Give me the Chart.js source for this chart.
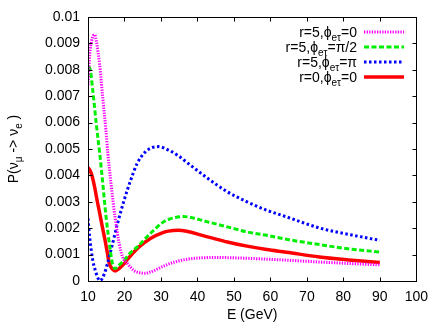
<!DOCTYPE html>
<html>
<head>
<meta charset="utf-8">
<script src="https://cdn.jsdelivr.net/npm/chart.js@4/dist/chart.umd.min.js"></script>
<style>
html,body{margin:0;padding:0;background:#fff;}
#wrap{width:436px;height:327px;position:relative;}
</style>
</head>
<body>
<div id="wrap"><canvas id="c" width="436" height="327"></canvas></div>
<script>
// ---- data ----
const xTicks = [10, 20, 30, 40, 50, 60, 70, 80, 90, 100];
const yTicks = [0, 0.001, 0.002, 0.003, 0.004, 0.005, 0.006, 0.007, 0.008, 0.009, 0.01];
const yTickLabels = ['0', '0.001', '0.002', '0.003', '0.004', '0.005', '0.006', '0.007', '0.008', '0.009', '0.01'];

const eMag = [10, 10.5, 11, 11.8, 12.4, 13.2, 14.05, 14.95, 15.4, 16.3, 17.4, 18.55, 19.5, 20.8, 22.6, 24, 25.5, 27.1, 30.7, 32.9, 37.4, 45.5, 53.6, 64.4, 73.4, 82.4, 90];
const pMag = [0.00743, 0.0086, 0.0091, 0.00933, 0.0090, 0.00819, 0.00692, 0.00566, 0.0049, 0.0037, 0.00243, 0.00142, 0.0009, 0.00066, 0.0004, 0.00032, 0.00029, 0.00034, 0.00056, 0.00068, 0.00083, 0.00089, 0.00086, 0.00079, 0.00072, 0.00066, 0.00061];

const eGrn = [10, 10.5, 11.35, 12.3, 13.2, 14.05, 14.95, 16.1, 16.8, 17.4, 18.5, 19.9, 21.5, 23.5, 27.1, 30.7, 32.05, 36.1, 42.8, 48.2, 53.6, 59, 64.4, 73.4, 82.4, 90];
const pGrn = [0.00812, 0.00806, 0.00717, 0.00591, 0.00484, 0.0037, 0.00243, 0.00117, 0.0006, 0.00047, 0.0006, 0.00079, 0.00105, 0.00129, 0.0018, 0.00224, 0.00233, 0.00244, 0.00224, 0.00205, 0.00186, 0.00173, 0.00158, 0.00138, 0.0012, 0.0011];

const eBlu = [10, 10.45, 11.3, 12, 12.7, 13.3, 14.5, 15.4, 16.3, 18.1, 19.9, 21.7, 23.5, 25.8, 27.5, 29.3, 32.05, 34.7, 37.4, 42.8, 48.2, 53.6, 59, 64.4, 73.4, 82.4, 90];
const pBlu = [0.00237, 0.00167, 0.00079, 0.0004, 0.00012, 0.00001, 0.00028, 0.0007, 0.00117, 0.00218, 0.00306, 0.00382, 0.00446, 0.0049, 0.00505, 0.00509, 0.00496, 0.00475, 0.00446, 0.00389, 0.00338, 0.003, 0.00268, 0.00243, 0.00201, 0.00174, 0.00154];

const eRed = [10, 10.5, 11, 11.8, 12.5, 13.05, 14, 14.5, 15.2, 15.85, 16.7, 17.5, 18.5, 19.9, 21, 22.6, 24, 27.1, 30.7, 32.05, 34.7, 42.8, 48.2, 53.6, 59, 64.4, 73.4, 82.4, 90];
const pRed = [0.0043, 0.0042, 0.00403, 0.00357, 0.00305, 0.00268, 0.002, 0.00167, 0.00115, 0.00066, 0.00045, 0.00038, 0.00047, 0.00066, 0.00085, 0.0011, 0.00129, 0.00161, 0.00184, 0.00189, 0.00192, 0.00167, 0.00148, 0.00132, 0.00119, 0.00109, 0.00091, 0.00079, 0.0007];

// legend labels: [main, subscript, main]
const seriesNames = [
  ['r=5,\u03d5', 'e\u03c4', '=0'],
  ['r=5,\u03d5', 'e\u03c4', '=\u03c0/2'],
  ['r=5,\u03d5', 'e\u03c4', '=\u03c0'],
  ['r=0,\u03d5', 'e\u03c4', '=0']
];
const yTitle = [['P(\u03bd', false], ['\u03bc', true], [' -> \u03bd', false], ['e', true], [' )', false]];
const xTitle = 'E (GeV)';

// ---- chart ----
const FONT = '"Liberation Sans", Arial, Helvetica, sans-serif';
function pts(xs, ys) { return xs.map((x, i) => ({x: x, y: ys[i]})); }

const styles = [
  {color: '#ff00ff', dash: [1.3, 1.3], width: 3},
  {color: '#00ee00', dash: [5, 2.5], width: 3},
  {color: '#0000ff', dash: [2.5, 2.5], width: 3},
  {color: '#ff0000', dash: [], width: 3.5}
];
const seriesData = [pts(eMag, pMag), pts(eGrn, pGrn), pts(eBlu, pBlu), pts(eRed, pRed)];

function drawRich(ctx, segs, x, y, align) {
  const big = '14px ' + FONT, small = '10px ' + FONT;
  let total = 0;
  const w = segs.map(s => { ctx.font = s[1] ? small : big; const m = ctx.measureText(s[0]).width; total += m; return m; });
  let cx = align === 'right' ? x - total : (align === 'center' ? x - total / 2 : x);
  ctx.textAlign = 'left';
  ctx.textBaseline = 'alphabetic';
  segs.forEach((s, i) => {
    ctx.font = s[1] ? small : big;
    ctx.fillText(s[0], cx, s[1] ? y + 4 : y);
    cx += w[i];
  });
}

const decor = {
  id: 'decor',
  afterDraw(chart) {
    const ctx = chart.ctx, a = chart.chartArea;
    const xs = chart.scales.x, ys = chart.scales.y;
    ctx.save();
    ctx.strokeStyle = '#000';
    ctx.lineWidth = 1;
    ctx.setLineDash([]);
    const L = Math.round(a.left) + 0.5, R = Math.round(a.right) + 0.5, T = Math.round(a.top) + 0.5, B = Math.round(a.bottom) + 0.5;
    ctx.strokeRect(L, T, R - L, B - T);
    ctx.beginPath();
    xTicks.forEach(v => {
      const p = Math.round(xs.getPixelForValue(v)) + 0.5;
      ctx.moveTo(p, B); ctx.lineTo(p, B - 4);
      ctx.moveTo(p, T); ctx.lineTo(p, T + 4);
    });
    yTicks.forEach(v => {
      const p = Math.round(ys.getPixelForValue(v)) + 0.5;
      ctx.moveTo(L, p); ctx.lineTo(L + 4, p);
      ctx.moveTo(R, p); ctx.lineTo(R - 4, p);
    });
    ctx.stroke();

    // legend
    ctx.fillStyle = '#000';
    seriesNames.forEach((n, i) => {
      const base = 36.5 + i * 15;
      drawRich(ctx, [[n[0], false], [n[1], true], [n[2], false]], 357, base, 'right');
      const st = styles[i];
      ctx.beginPath();
      ctx.strokeStyle = st.color;
      ctx.lineWidth = st.width;
      ctx.setLineDash(st.dash);
      ctx.moveTo(364, base - 4.5);
      ctx.lineTo(404, base - 4.5);
      ctx.stroke();
    });
    ctx.setLineDash([]);

    // y title
    ctx.fillStyle = '#000';
    ctx.translate(18, (a.top + a.bottom) / 2);
    ctx.rotate(-Math.PI / 2);
    drawRich(ctx, yTitle, 0, 0, 'center');
    ctx.restore();
  }
};

new Chart(document.getElementById('c'), {
  type: 'line',
  data: {
    datasets: seriesData.map((d, i) => ({
      label: seriesNames[i].join(''),
      data: d,
      borderColor: styles[i].color,
      borderWidth: styles[i].width,
      borderDash: styles[i].dash,
      borderCapStyle: 'butt',
      pointRadius: 0,
      fill: false,
      cubicInterpolationMode: 'monotone'
    }))
  },
  options: {
    responsive: false,
    animation: false,
    events: [],
    layout: {padding: {left: 0, right: 14, top: 17, bottom: 0}},
    plugins: {legend: {display: false}, tooltip: {enabled: false}},
    scales: {
      x: {
        type: 'linear', min: 10, max: 100,
        afterBuildTicks: s => { s.ticks = xTicks.map(v => ({value: v})); },
        afterFit: s => { s.height = 46; },
        grid: {display: false, drawTicks: false},
        border: {display: false},
        ticks: {color: '#000', font: {family: FONT, size: 14}, padding: 8, maxRotation: 0, autoSkip: false,
          callback: v => String(v)},
        title: {display: true, text: xTitle, color: '#000', font: {family: FONT, size: 14}, padding: {top: 0, bottom: 3}}
      },
      y: {
        type: 'linear', min: 0, max: 0.01,
        afterBuildTicks: s => { s.ticks = yTicks.map(v => ({value: v})); },
        afterFit: s => { s.width = 88; },
        grid: {display: false, drawTicks: false},
        border: {display: false},
        ticks: {color: '#000', font: {family: FONT, size: 14}, padding: 8, autoSkip: false,
          callback: (v, i) => yTickLabels[i]}
      }
    }
  },
  plugins: [decor]
});
</script>
</body>
</html>
